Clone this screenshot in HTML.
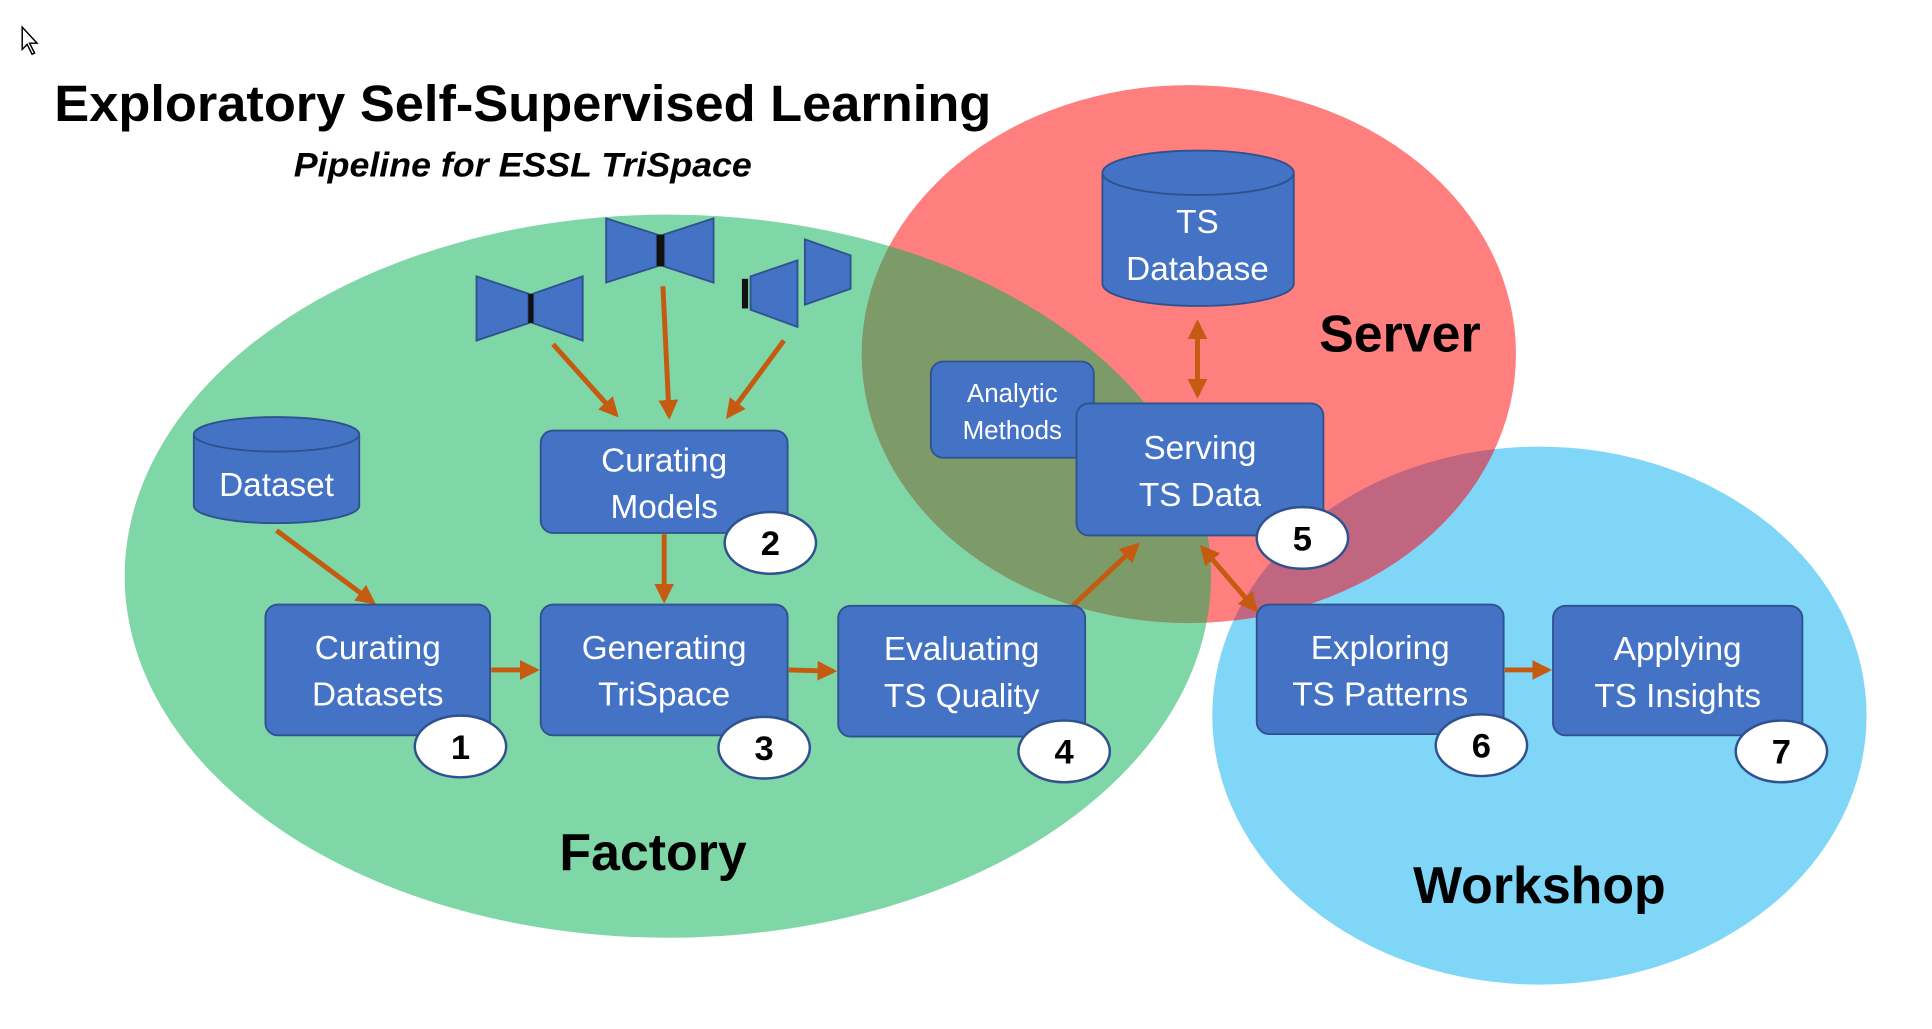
<!DOCTYPE html>
<html><head><meta charset="utf-8"><style>
html,body{margin:0;padding:0;background:#fff;}
svg{display:block;}
text{font-family:"Liberation Sans",sans-serif;}
</style></head><body>
<svg width="1932" height="1029" viewBox="0 0 1565 834" preserveAspectRatio="none" xmlns="http://www.w3.org/2000/svg">
<defs>
<marker id="ah" viewBox="0 0 10 10" refX="8" refY="5" markerWidth="4" markerHeight="4" orient="auto-start-reverse"><path d="M0,0 L10,5 L0,10 z" fill="#c55a11"/></marker>
<clipPath id="cg"><ellipse cx="541" cy="467" rx="440" ry="293"/></clipPath>
<clipPath id="cb"><ellipse cx="1247" cy="580" rx="265" ry="218"/></clipPath>
</defs>
<ellipse cx="541" cy="467" rx="440" ry="293" fill="#7fd6a7"/>
<ellipse cx="1247" cy="580" rx="265" ry="218" fill="#7fd6f7"/>
<ellipse cx="963" cy="287" rx="265" ry="218" fill="#ff7f7f"/>
<ellipse cx="963" cy="287" rx="265" ry="218" fill="#7d9b68" clip-path="url(#cg)"/>
<ellipse cx="963" cy="287" rx="265" ry="218" fill="#c06680" clip-path="url(#cb)"/>

<g stroke="#000" stroke-width="1.2" fill="#fff"><path d="M18,22 L18,40 L22,36 L26,44 L28,43 L24,35 L30,35 z"/></g>

<text x="44" y="98" font-size="41" font-weight="bold" fill="#000" textLength="759" lengthAdjust="spacingAndGlyphs">Exploratory Self-Supervised Learning</text>
<text x="238" y="143" font-size="28" font-weight="bold" font-style="italic" textLength="371" lengthAdjust="spacingAndGlyphs">Pipeline for ESSL TriSpace</text>
<text x="1134" y="285" font-size="42" font-weight="bold" text-anchor="middle">Server</text>
<text x="529" y="705" font-size="42" font-weight="bold" text-anchor="middle">Factory</text>
<text x="1247" y="732" font-size="42" font-weight="bold" text-anchor="middle">Workshop</text>

<g fill="#4472c4" stroke="#2f528f" stroke-width="1.5">
<polygon points="386,224 428,238 428,262 386,276"/><polygon points="472,224 432,238 432,262 472,276"/>
<polygon points="491,177 532,190 532,216 491,229"/><polygon points="578,177 538,190 538,216 578,229"/>
<polygon points="646,211 608,224 608,251 646,265"/><polygon points="652,194 689,207 689,234 652,247"/>
</g>
<g fill="#111"><rect x="428" y="238" width="4" height="24"/><rect x="532" y="190" width="6" height="26"/><rect x="601" y="226" width="5" height="24"/></g>

<g fill="#4472c4" stroke="#2f528f" stroke-width="1.5">
<path d="M157,352 L157,410 A67,14 0 0 0 291,410 L291,352"/>
<ellipse cx="224" cy="352" rx="67" ry="14"/>
<path d="M893,140 L893,230 A77.5,18 0 0 0 1048,230 L1048,140"/>
<ellipse cx="970.5" cy="140" rx="77.5" ry="18"/>
</g>
<text x="224" y="402" font-size="27" fill="#fff" text-anchor="middle">Dataset</text>
<text x="970" y="189" font-size="27" fill="#fff" text-anchor="middle">TS</text>
<text x="970" y="227" font-size="27" fill="#fff" text-anchor="middle">Database</text>

<g stroke="#c55a11" stroke-width="4" fill="none" marker-end="url(#ah)">
<line x1="448" y1="279" x2="499" y2="336"/>
<line x1="537" y1="232" x2="542" y2="337"/>
<line x1="635" y1="276" x2="590" y2="337"/>
<line x1="224" y1="430" x2="302" y2="488"/>
<line x1="538" y1="433" x2="538" y2="486"/>
<line x1="398" y1="543" x2="434" y2="543"/>
<line x1="639" y1="543" x2="675" y2="544"/>
<line x1="869" y1="491" x2="921" y2="442"/>
<line x1="1219" y1="543" x2="1254" y2="543"/>
<line x1="970" y1="262" x2="970" y2="320" marker-start="url(#ah)"/>
<line x1="974" y1="444" x2="1017" y2="494" marker-start="url(#ah)"/>
</g>

<g fill="#4472c4" stroke="#2f528f" stroke-width="1.5">
<rect x="754" y="293" width="132" height="78" rx="10"/>
<rect x="438" y="349" width="200" height="83" rx="10"/>
<rect x="215" y="490" width="182" height="106" rx="10"/>
<rect x="438" y="490" width="200" height="106" rx="10"/>
<rect x="679" y="491" width="200" height="106" rx="10"/>
<rect x="872" y="327" width="200" height="107" rx="10"/>
<rect x="1018" y="490" width="200" height="105" rx="10"/>
<rect x="1258" y="491" width="202" height="105" rx="10"/>
</g>
<g fill="#fff" font-size="27" text-anchor="middle">
<text x="820" y="326" font-size="21">Analytic</text><text x="820" y="356" font-size="21">Methods</text>
<text x="538" y="382">Curating</text><text x="538" y="420">Models</text>
<text x="306" y="534">Curating</text><text x="306" y="572">Datasets</text>
<text x="538" y="534">Generating</text><text x="538" y="572">TriSpace</text>
<text x="779" y="535">Evaluating</text><text x="779" y="573">TS Quality</text>
<text x="972" y="372">Serving</text><text x="972" y="410">TS Data</text>
<text x="1118" y="534">Exploring</text><text x="1118" y="572">TS Patterns</text>
<text x="1359" y="535">Applying</text><text x="1359" y="573">TS Insights</text>
</g>

<g fill="#fff" stroke="#2f528f" stroke-width="2">
<ellipse cx="373" cy="605" rx="37" ry="25"/>
<ellipse cx="624" cy="440" rx="37" ry="25"/>
<ellipse cx="619" cy="606" rx="37" ry="25"/>
<ellipse cx="862" cy="609" rx="37" ry="25"/>
<ellipse cx="1055" cy="436" rx="37" ry="25"/>
<ellipse cx="1200" cy="604" rx="37" ry="25"/>
<ellipse cx="1443" cy="609" rx="37" ry="25"/>
</g>
<g font-size="28" font-weight="bold" text-anchor="middle" fill="#000">
<text x="373" y="615">1</text><text x="624" y="450">2</text><text x="619" y="616">3</text>
<text x="862" y="619">4</text><text x="1055" y="446">5</text><text x="1200" y="614">6</text><text x="1443" y="619">7</text>
</g>
</svg>
</body></html>
